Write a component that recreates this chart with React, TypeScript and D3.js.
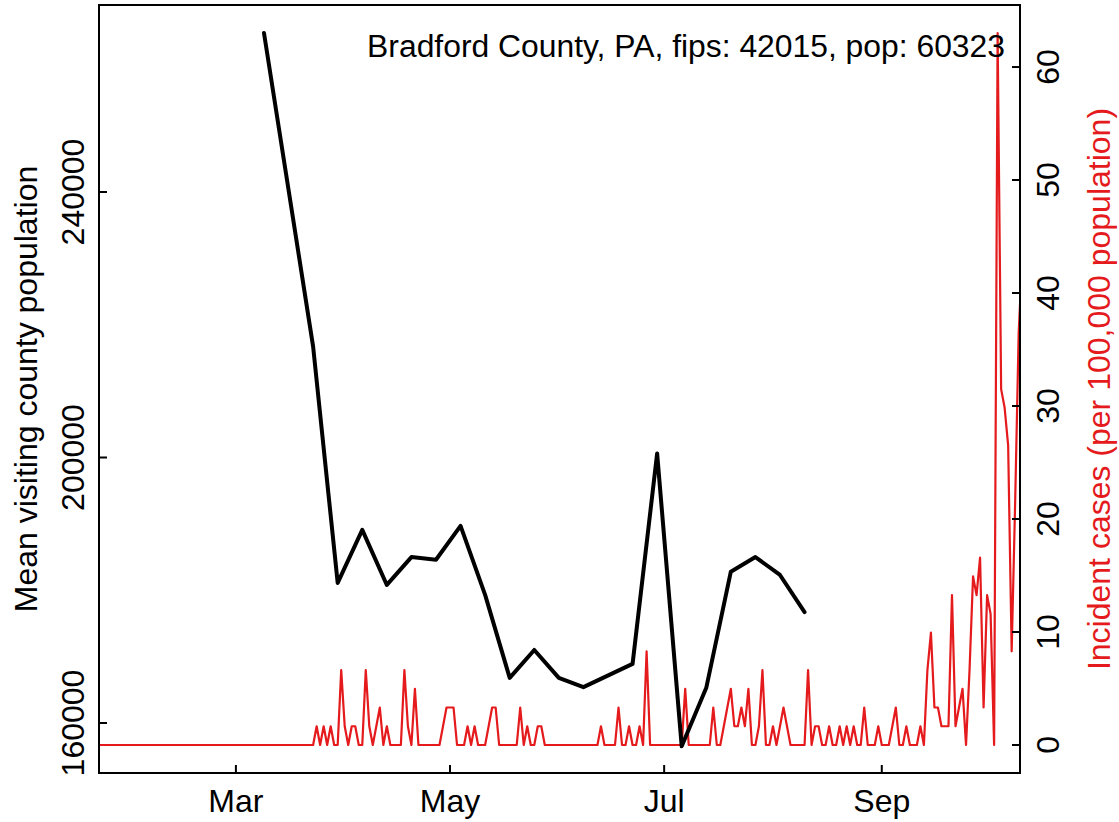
import React from "react";
import * as d3 from "d3";

const W = 1119;
const H = 822;
const POP = 60323;
const titleText = "Bradford County, PA, fips: 42015, pop: 60323";

const visitDates = [
  "2020-03-09", "2020-03-23", "2020-03-30", "2020-04-06", "2020-04-13", "2020-04-20",
  "2020-04-27", "2020-05-04", "2020-05-11", "2020-05-18", "2020-05-25", "2020-06-01",
  "2020-06-08", "2020-06-22", "2020-06-29", "2020-07-06", "2020-07-13", "2020-07-20",
  "2020-07-27", "2020-08-03", "2020-08-10",
];
const visitValues = [
  263950, 216700, 181100, 189100, 180800, 185000,
  184600, 189700, 179300, 166800, 171000, 166800,
  165400, 168900, 200600, 156500, 165300, 182800,
  185000, 182300, 176700,
];

const caseStartDate = "2020-01-22";
const dailyCases = [
  // Jan 22 - Mar 22
  0, 0, 0, 0, 0, 0, 0, 0, 0, 0, 0, 0, 0, 0, 0, 0, 0, 0, 0, 0,
  0, 0, 0, 0, 0, 0, 0, 0, 0, 0, 0, 0, 0, 0, 0, 0, 0, 0, 0, 0,
  0, 0, 0, 0, 0, 0, 0, 0, 0, 0, 0, 0, 0, 0, 0, 0, 0, 0, 0, 0,
  0,
  // Mar 23 onward
  0, 1, 0, 1, 0, 1, 0, 0, 4, 1,
  0, 1, 1, 0, 0, 4, 1, 0, 1, 2,
  0, 1, 0, 0, 0, 0, 4, 1, 0, 3,
  0, 0, 0, 0, 0, 0, 0, 1, 2, 2,
  2, 0, 0, 0, 1, 0, 1, 0, 0, 0,
  1, 2, 2, 0, 0, 0, 0, 0, 0, 2,
  0, 1, 0, 0, 1, 1, 0, 0, 0, 0,
  0, 0, 0, 0, 0, 0, 0, 0, 0, 0,
  0, 0, 1, 0, 0, 0, 0, 2, 0, 0,
  1, 0, 0, 1, 0, 5, 0, 0, 0, 0,
  0, 0, 0, 0, 0, 0, 3, 0, 0, 0,
  0, 0, 0, 0, 2, 0, 0, 1, 2, 3,
  1, 1, 2, 1, 3, 0, 0, 1, 4, 0,
  0, 1, 0, 1, 2, 1, 0, 0, 0, 0,
  0, 4, 0, 1, 1, 0, 0, 1, 0, 0,
  1, 0, 1, 0, 1, 0, 0, 2, 0, 0,
  0, 1, 0, 0, 0, 1, 2, 0, 0, 1,
  0, 0, 0, 1, 0, 4, 6, 2, 2, 1,
  1, 1, 8, 1, 2, 3, 0, 4, 9, 8,
  10, 2, 8, 7, 0, 38, 19, 18, 16, 5,
  13, 22, 26,
];

const xTickDates = ["2020-03-01", "2020-05-01", "2020-07-01", "2020-09-01"];
const xTickLabels = ["Mar", "May", "Jul", "Sep"];
const leftTicks = [160000, 200000, 240000];
const rightTicks = [0, 10, 20, 30, 40, 50, 60];

const FONT = "'Liberation Sans', Arial, Helvetica, sans-serif";
const RED = "#E41A1C";

export default function App() {
  const left = 99, right = 1020, top = 5, bottom = 773;
  const parse = (s: string) => new Date(s + "T00:00:00Z");

  const x = d3.scaleUtc()
    .domain([Date.UTC(2020, 0, 22), Date.UTC(2020, 9, 10, 9)])
    .range([left, right]);
  const yL = d3.scaleLinear().domain([152467, 268174]).range([bottom, top]);
  const yR = d3.scaleLinear().domain([-2.48, 65.49]).range([bottom, top]);

  const start = parse(caseStartDate);
  const redData = dailyCases.map((c, i) => ({
    date: d3.utcDay.offset(start, i),
    v: (c * 100000) / POP,
  }));
  const blackData = visitDates.map((d, i) => ({ date: parse(d), v: visitValues[i] }));

  const redLine = d3.line<{ date: Date; v: number }>()
    .x((d) => x(d.date))
    .y((d) => yR(d.v));
  const blackLine = d3.line<{ date: Date; v: number }>()
    .x((d) => x(d.date))
    .y((d) => yL(d.v));

  const tick = 8;
  const fs = 32;

  return (
    <svg width={W} height={H} style={{ position: "absolute", left: 0, top: 0, background: "#fff" }}
      fontFamily={FONT}>
      <defs>
        <clipPath id="plotClip">
          <rect x={left} y={top} width={right - left} height={bottom - top} />
        </clipPath>
      </defs>
      <rect x={0} y={0} width={W} height={H} fill="#fff" />

      {/* red incident cases */}
      <path d={redLine(redData) || ""} fill="none" stroke={RED} strokeWidth={2.2}
        strokeLinejoin="round" strokeLinecap="round" clipPath="url(#plotClip)" />

      {/* black visiting population */}
      <path d={blackLine(blackData) || ""} fill="none" stroke="#000" strokeWidth={4}
        strokeLinejoin="round" strokeLinecap="round" clipPath="url(#plotClip)" />

      {/* box */}
      <rect x={left} y={top} width={right - left} height={bottom - top} fill="none" stroke="#000" strokeWidth={2} />

      {/* x axis */}
      {xTickDates.map((d, i) => {
        const xx = x(parse(d));
        return (
          <g key={d}>
            <line x1={xx} x2={xx} y1={bottom} y2={bottom - tick} stroke="#000" strokeWidth={2} />
            <text x={xx} y={812} fontSize={fs} textAnchor="middle">{xTickLabels[i]}</text>
          </g>
        );
      })}

      {/* left axis */}
      {leftTicks.map((t) => {
        const yy = yL(t);
        return (
          <g key={t}>
            <line x1={left} x2={left + tick} y1={yy} y2={yy} stroke="#000" strokeWidth={2} />
            <text transform={`translate(84,${yy}) rotate(-90)`} fontSize={fs} textAnchor="middle">{t}</text>
          </g>
        );
      })}
      <text transform={`translate(37,${(top + bottom) / 2}) rotate(-90)`} fontSize={fs} textAnchor="middle">
        Mean visiting county population
      </text>

      {/* right axis */}
      {rightTicks.map((t) => {
        const yy = yR(t);
        return (
          <g key={t}>
            <line x1={right} x2={right - tick} y1={yy} y2={yy} stroke="#000" strokeWidth={2} />
            <text transform={`translate(1059,${yy}) rotate(-90)`} fontSize={fs} textAnchor="middle">{t}</text>
          </g>
        );
      })}
      <text transform={`translate(1110,${(top + bottom) / 2}) rotate(-90)`} fontSize={fs} textAnchor="middle" fill={RED}>
        Incident cases (per 100,000 population)
      </text>

      {/* title */}
      <text x={1005} y={57} fontSize={31.85} textAnchor="end">{titleText}</text>
    </svg>
  );
}
